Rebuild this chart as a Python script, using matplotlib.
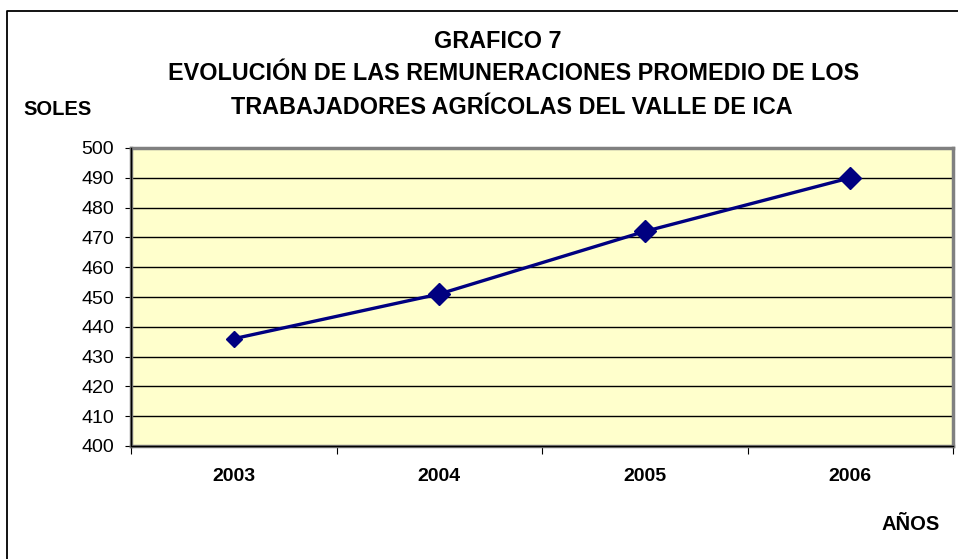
import matplotlib.pyplot as plt
from matplotlib.lines import Line2D

# Data
years = ["2003", "2004", "2005", "2006"]
soles = [436, 451, 472, 490]
y_ticks = [400, 410, 420, 430, 440, 450, 460, 470, 480, 490, 500]

plt.rcParams['font.family'] = ['Liberation Sans', 'DejaVu Sans']

W, H = 958, 559
fig = plt.figure(figsize=(W / 100, H / 100), dpi=100)
ax = fig.add_axes([131 / W, 1 - 446 / H, 822 / W, 298 / H])

ax.set_facecolor('#FFFFCC')
x = [i + 0.5 for i in range(len(years))]
ax.plot(x, soles, color='#000080', lw=2.4, zorder=3)
# Excel drew the first marker smaller than the others
ax.plot(x[:1], soles[:1], ls='none', marker='D', ms=8, color='#000080', zorder=4)
ax.plot(x[1:], soles[1:], ls='none', marker='D', ms=11, color='#000080', zorder=4)

ax.set_xlim(0, len(years))
ax.set_ylim(400, 500)
ax.set_yticks(y_ticks)
ax.set_yticklabels([str(v) for v in y_ticks], fontsize=14)
ax.set_xticks(range(len(years) + 1))
ax.set_xticklabels([])
ax.set_xticks(x, minor=True)
ax.set_xticklabels(years, minor=True, fontsize=14, fontweight='bold')
ax.tick_params(axis='x', which='minor', length=0, pad=16)
ax.tick_params(axis='x', which='major', length=6, direction='out', color='black')
ax.tick_params(axis='y', length=4.5, direction='out', color='black', pad=7.5)

for v in y_ticks[1:-1]:
    ax.axhline(v, color='black', lw=1, zorder=1)

for s in ax.spines.values():
    s.set_color('#808080')
    s.set_linewidth(2.5)
ax.axvline(0, color='black', lw=1, zorder=5, clip_on=False)
ax.axhline(400, color='black', lw=1, zorder=5, clip_on=False)

# Outer chart frame (left and top edges visible)
fig.add_artist(Line2D([7 / W, 7 / W, 1], [0, 1 - 11 / H, 1 - 11 / H],
                      color='black', lw=1.3, transform=fig.transFigure))

fig.text(498 / W, 1 - 42 / H, "GRAFICO 7", ha='center', va='center', fontsize=16.8, fontweight='bold')
fig.text(514 / W, 1 - 74 / H, "EVOLUCIÓN DE LAS REMUNERACIONES PROMEDIO DE LOS",
         ha='center', va='center', fontsize=16.8, fontweight='bold')
fig.text(512 / W, 1 - 107 / H, "TRABAJADORES AGRÍCOLAS DEL VALLE DE ICA",
         ha='center', va='center', fontsize=16.8, fontweight='bold')
fig.text(23 / W, 1 - 109 / H, "SOLES", ha='left', va='center', fontsize=14.5, fontweight='bold')
fig.text(940 / W, 1 - 524 / H, "AÑOS", ha='right', va='center', fontsize=14.5, fontweight='bold')

fig.savefig('out.png', dpi=100, facecolor='white')
